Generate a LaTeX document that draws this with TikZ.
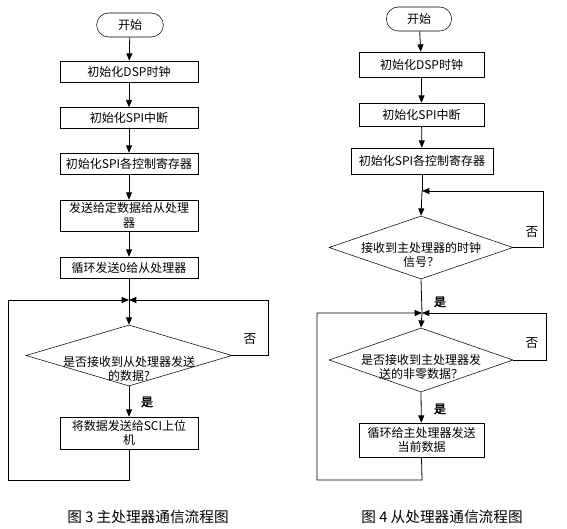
\documentclass[tikz,border=0pt]{standalone}
\usepackage{fontspec}
\setmainfont{Noto Sans CJK SC}[AutoFakeBold=2.5]
\usetikzlibrary{arrows.meta}
\usetikzlibrary{shapes.geometric}
\usetikzlibrary{shapes.misc}

\tikzset{
  every node/.style={font=\fontsize{9pt}{11pt}\selectfont},
  term/.style={draw,rounded rectangle,minimum width=52pt,minimum height=18pt,inner sep=1pt},
  proc/.style={draw,rectangle,minimum height=15.75pt,inner sep=1pt,align=center},
  decide/.style={draw,diamond,inner sep=0pt},
  flow/.style={line width=0.6pt,-{Triangle[length=5.5pt,width=4.5pt]}},
  wire/.style={line width=0.6pt},
  yes/.style={font=\fontsize{9pt}{11pt}\selectfont\bfseries},
  no/.style={font=\fontsize{9.5pt}{11pt}\selectfont},
  caption/.style={font=\fontsize{11pt}{13pt}\selectfont},
}

\begin{document}
\begin{tikzpicture}[x=0.75pt,y=0.75pt,yscale=-1,xscale=1]
\useasboundingbox (0,0) rectangle (567,528);

%%%%%%%%%%%%%%%%%%%%%%%% Fig 3: master
% Terminal
\node[term] (start3) at (130,25) {开始};
% Process boxes
\node[proc,minimum width=103.5pt] (clk3) at (129,71.5) {初始化DSP时钟};
\node[proc,minimum width=103.5pt] (irq3) at (129,118) {初始化SPI中断};
\node[proc,minimum width=103.5pt] (reg3) at (129,163.5) {初始化SPI各控制寄存器};
\node[proc,minimum width=103.5pt,minimum height=23.25pt] (send3) at (129,215.5) {发送给定数据给从处理\\器};
\node[proc,minimum width=103.5pt] (zero3) at (129,267.5) {循环发送0给从处理器};
% Merge point
\coordinate (join3) at (129,300);
% Decision
\node[decide,minimum width=154.5pt,minimum height=45.75pt] (ask3) at (129,355.5) {};
\node[align=center] (asktxt3) at (129,369) {是否接收到从处理器发送\\的数据?};
% Output box
\node[proc,minimum width=103.5pt,minimum height=24pt] (sci3) at (129,433) {将数据发送给SCI上位\\机};
% Loop corners
\coordinate (low3) at (129,480);
\coordinate (lft3) at (8,300);
\coordinate (rgt3) at (268,300);

% Connectors
\draw[flow] (start3) -- (clk3);
\draw[flow] (clk3) -- (irq3);
\draw[flow] (irq3) -- (reg3);
\draw[flow] (reg3) -- (send3);
\draw[flow] (send3) -- (zero3);
\draw[wire] (zero3) -- (join3);
\draw[flow] (join3) -- (ask3.north);
\draw[flow] (ask3.south) -- (sci3);
\draw[flow] (ask3.east) -| (rgt3) -- (join3);
\draw[flow] (sci3.south) -- (low3) -| (lft3) -- (join3);

% Labels
\node[no] (no3) at (250,339) {否};
\node[yes] (yes3) at (147,402) {是};
\node[caption] (cap3) at (148,517) {图 3 主处理器通信流程图};

%%%%%%%%%%%%%%%%%%%%%%%% Fig 4: slave
% Terminal
\node[term,minimum width=51pt] (start4) at (419,19) {开始};
% Process boxes
\node[proc,minimum width=93.75pt,minimum height=18.75pt] (clk4) at (421.5,64.5) {初始化DSP时钟};
\node[proc,minimum width=93.75pt,minimum height=17.25pt] (irq4) at (421.5,114.5) {初始化SPI中断};
\node[proc,minimum width=106.5pt,minimum height=19.5pt] (reg4) at (422,161) {初始化SPI各控制寄存器};
% Merge point 1
\coordinate (join4a) at (422,191);
% Decision 1
\node[decide,minimum width=138pt,minimum height=47.25pt] (clkq4) at (421,247.5) {};
\node[align=center] (clktxt4) at (421,255) {接收到主处理器的时钟\\信号？};
% Merge point 2
\coordinate (join4b) at (422,313);
% Decision 2
\node[decide,minimum width=138pt,minimum height=48pt] (datq4) at (421,360) {};
\node[align=center] (dattxt4) at (421,367) {是否接收到主处理器发\\送的非零数据？};
% Output box
\node[proc,minimum width=93.75pt,minimum height=25.5pt] (echo4) at (421.5,440) {循环给主处理器发送\\当前数据};
% Loop corners
\coordinate (rgt4a) at (543,191);
\coordinate (rgt4b) at (546,313);
\coordinate (low4) at (422,480);
\coordinate (lft4) at (317,313);

% Connectors
\draw[flow] (start4) -- (clk4);
\draw[flow] (clk4) -- (irq4);
\draw[flow] (irq4) -- (reg4);
\draw[wire] (reg4) -- (join4a);
\draw[flow] (join4a) -- (clkq4.north);
\draw[flow] (clkq4.east) -| (rgt4a) -- (join4a);
\draw[wire] (clkq4.south) -- (join4b);
\draw[flow] (join4b) -- (datq4.north);
\draw[flow] (datq4.east) -| (rgt4b) -- (join4b);
\draw[flow] (datq4.south) -- (echo4);
\draw[flow] (echo4.south) -- (low4) -| (lft4) -- (join4b);

% Labels
\node[no] (no4a) at (532,232) {否};
\node[yes] (yes4a) at (440,302) {是};
\node[no] (no4b) at (532,343) {否};
\node[yes] (yes4b) at (440,409) {是};
\node[caption] (cap4) at (442,517) {图 4 从处理器通信流程图};

\end{tikzpicture}
\end{document}
